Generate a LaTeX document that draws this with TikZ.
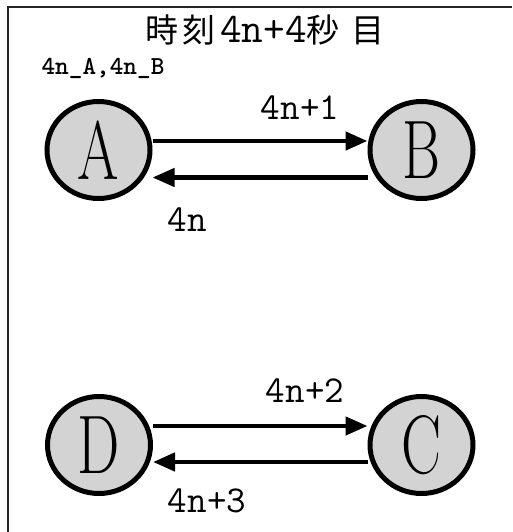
\documentclass[tikz,border=0pt]{standalone}
\usepackage{fontspec}
\newfontfamily\cjk{Noto Sans CJK JP}
\usetikzlibrary{arrows.meta,shapes.geometric}
\definecolor{nodegray}{RGB}{211,211,211}
\begin{document}
\begin{tikzpicture}[x=1pt,y=-1pt,
  statenode/.style={ellipse, draw=black, line width=5pt, fill=nodegray,
    minimum width=103pt, minimum height=97pt, inner sep=0pt,
    font=\fontsize{83}{83}\selectfont},
  arr/.style={line width=4.5pt, -{Triangle[length=22pt,width=18pt]}},
  lbl/.style={font=\ttfamily\fontsize{38}{38}\selectfont, inner sep=0pt},
  frameline/.style={line width=2.5pt, black!85}]
\useasboundingbox (0,0) rectangle (512,532);
\draw[frameline] (8,532) -- (8,7) -- (512,7);
\node[anchor=base, inner sep=0pt] (title) at (265,43)
  {\cjk\fontsize{33}{33}\selectfont 時\hspace{4pt}刻\hspace{5pt}{\ttfamily\fontsize{42}{42}\selectfont 4n+4}秒\hspace{12pt}目};
\node[anchor=base, inner sep=0pt] (sub) at (103,75)
  {\ttfamily\bfseries\fontsize{26}{26}\selectfont 4n\_A,4n\_B};
\node[statenode] (A) at (98.5,150) {\scalebox{0.72}[1]{A}};
\node[statenode] (B) at (421.5,150) {\scalebox{0.70}[1]{B}};
\node[statenode] (D) at (99,445) {\scalebox{0.72}[1]{D}};
\node[statenode] (C) at (421.5,445) {\scalebox{0.72}[1]{C}};
\draw[arr] ([yshift=9pt]A.east) -- ([yshift=9pt]B.west);
\draw[arr] ([yshift=-27.5pt]B.west) -- ([yshift=-27.5pt]A.east);
\draw[arr] ([yshift=19pt]D.east) -- ([yshift=19pt]C.west);
\draw[arr] ([yshift=-17pt]C.west) -- ([yshift=-17pt]D.east);
\node[lbl] (l1) at (300,108) {4n+1};
\node[lbl] (l0) at (187,220) {4n};
\node[lbl] (l2) at (305,391) {4n+2};
\node[lbl] (l3) at (207,501) {4n+3};
\end{tikzpicture}
\end{document}
